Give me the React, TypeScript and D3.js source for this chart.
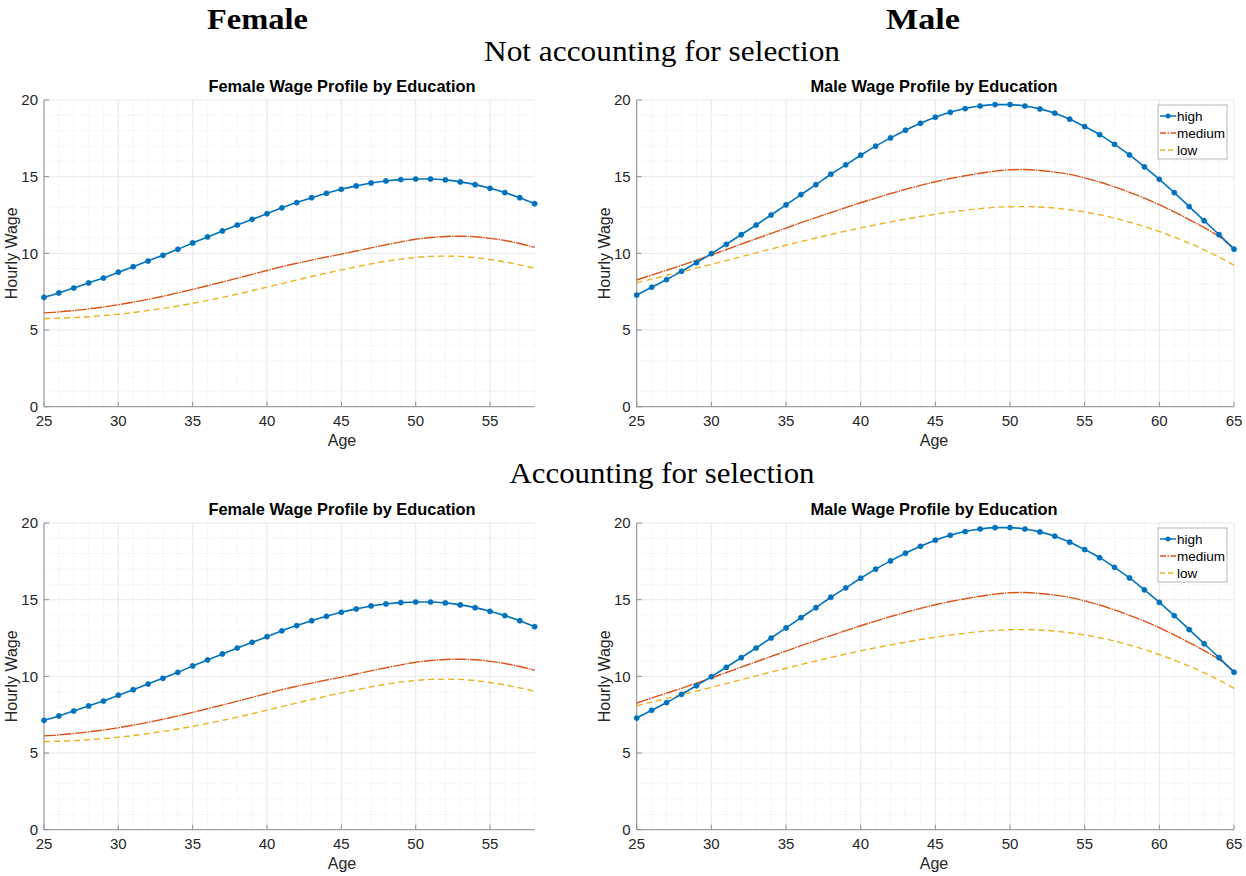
import React from "react";
import * as d3 from "d3";

const femaleAges = d3.range(25, 59);
const maleAges = d3.range(25, 66);

const femaleHigh = [7.13, 7.42, 7.74, 8.07, 8.39, 8.77, 9.13, 9.5, 9.87, 10.26, 10.68, 11.07, 11.46, 11.85, 12.22, 12.59, 12.97, 13.31, 13.63, 13.92, 14.18, 14.4, 14.59, 14.72, 14.81, 14.85, 14.85, 14.79, 14.66, 14.48, 14.24, 13.96, 13.63, 13.24];
const femaleMedium = [6.12, 6.18, 6.27, 6.38, 6.5, 6.65, 6.82, 7.0, 7.2, 7.42, 7.65, 7.89, 8.13, 8.38, 8.63, 8.88, 9.13, 9.35, 9.56, 9.76, 9.95, 10.15, 10.36, 10.56, 10.75, 10.92, 11.03, 11.1, 11.12, 11.08, 10.98, 10.84, 10.64, 10.4];
const femaleLow = [5.74, 5.77, 5.81, 5.87, 5.94, 6.03, 6.14, 6.27, 6.41, 6.57, 6.74, 6.93, 7.13, 7.34, 7.56, 7.8, 8.03, 8.26, 8.49, 8.71, 8.92, 9.12, 9.31, 9.48, 9.62, 9.73, 9.8, 9.82, 9.8, 9.72, 9.6, 9.44, 9.25, 9.03];

const maleHigh = [7.28, 7.79, 8.29, 8.83, 9.39, 9.98, 10.59, 11.22, 11.85, 12.5, 13.16, 13.83, 14.48, 15.16, 15.77, 16.4, 16.99, 17.53, 18.03, 18.48, 18.88, 19.2, 19.44, 19.61, 19.7, 19.7, 19.61, 19.42, 19.14, 18.75, 18.27, 17.74, 17.11, 16.42, 15.64, 14.83, 13.96, 13.05, 12.13, 11.22, 10.27];
const maleMedium = [8.26, 8.58, 8.9, 9.22, 9.55, 9.9, 10.25, 10.6, 10.95, 11.3, 11.65, 12.0, 12.33, 12.66, 12.98, 13.3, 13.6, 13.9, 14.17, 14.43, 14.67, 14.88, 15.06, 15.22, 15.36, 15.45, 15.47, 15.4, 15.3, 15.15, 14.92, 14.65, 14.33, 13.98, 13.6, 13.17, 12.7, 12.2, 11.68, 11.1, 10.3];
const maleLow = [8.08, 8.32, 8.56, 8.8, 9.04, 9.28, 9.53, 9.78, 10.03, 10.28, 10.53, 10.77, 11.0, 11.23, 11.45, 11.66, 11.86, 12.05, 12.23, 12.4, 12.55, 12.69, 12.81, 12.92, 13.0, 13.04, 13.05, 13.02, 12.95, 12.84, 12.7, 12.52, 12.3, 12.04, 11.75, 11.42, 11.06, 10.67, 10.23, 9.75, 9.22];

const yTicks = [0, 5, 10, 15, 20];
const femaleXTicks = [25, 30, 35, 40, 45, 50, 55];
const maleXTicks = [25, 30, 35, 40, 45, 50, 55, 60, 65];
const seriesNames = ["high", "medium", "low"];

const BLUE = "#0072BD";
const ORANGE = "#D95319";
const YELLOW = "#EDB120";
const SANS = "'Liberation Sans', Arial, Helvetica, sans-serif";
const SERIF = "'Liberation Serif', 'DejaVu Serif', serif";

type PanelProps = {
  title: string;
  ages: number[];
  xMax: number;
  xTicks: number[];
  high: number[];
  medium: number[];
  low: number[];
  x0: number;
  x1: number;
  y0: number;
  y1: number;
  legend: boolean;
  titleX: number;
  labelX: number;
};

function Panel(p: PanelProps) {
  const x = d3.scaleLinear().domain([25, p.xMax]).range([p.x0, p.x1]);
  const y = d3.scaleLinear().domain([0, 20]).range([p.y1, p.y0]);
  const line = d3
    .line<number>()
    .x((_, i) => x(p.ages[i]))
    .y((v) => y(v))
    .curve(d3.curveMonotoneX);
  const minorX = d3.range(25, p.xMax + 0.001, 1);
  const minorY = d3.range(0, 20.001, 1);
  const axisColor = "#8f8f8f";
  return (
    <g>
      {minorX.map((v) => (
        <line key={"mx" + v} x1={x(v)} x2={x(v)} y1={p.y0} y2={p.y1} stroke="#e6e6e6" strokeWidth={0.6} strokeDasharray="1.5,1.5" />
      ))}
      {minorY.map((v) => (
        <line key={"my" + v} x1={p.x0} x2={p.x1} y1={y(v)} y2={y(v)} stroke="#e6e6e6" strokeWidth={0.6} strokeDasharray="1.5,1.5" />
      ))}
      {p.xTicks.map((v) => (
        <line key={"gx" + v} x1={x(v)} x2={x(v)} y1={p.y0} y2={p.y1} stroke="#e4e4e4" strokeWidth={0.7} />
      ))}
      {yTicks.map((v) => (
        <line key={"gy" + v} x1={p.x0} x2={p.x1} y1={y(v)} y2={y(v)} stroke="#e4e4e4" strokeWidth={0.7} />
      ))}
      <line x1={p.x0} x2={p.x0} y1={p.y0} y2={p.y1} stroke={axisColor} strokeWidth={1} />
      <line x1={p.x0} x2={p.x1} y1={p.y1} y2={p.y1} stroke={axisColor} strokeWidth={1} />
      {yTicks.map((v) => (
        <g key={"ty" + v}>
          <line x1={p.x0} x2={p.x0 + 5} y1={y(v)} y2={y(v)} stroke={axisColor} strokeWidth={1} />
          <text x={p.x0 - 6} y={y(v)} dy="0.35em" textAnchor="end" fontFamily={SANS} fontSize={15} fill="#262626">
            {v}
          </text>
        </g>
      ))}
      {p.xTicks.map((v) => (
        <g key={"tx" + v}>
          <line x1={x(v)} x2={x(v)} y1={p.y1} y2={p.y1 - 5} stroke={axisColor} strokeWidth={1} />
          <text x={x(v)} y={p.y1 + 19} textAnchor="middle" fontFamily={SANS} fontSize={15} fill="#262626">
            {v}
          </text>
        </g>
      ))}
      <text x={p.labelX} y={p.y1 + 39} textAnchor="middle" fontFamily={SANS} fontSize={16} fill="#262626">
        Age
      </text>
      <text
        transform={`translate(${p.x0 - 27},${(p.y0 + p.y1) / 2}) rotate(-90)`}
        textAnchor="middle"
        fontFamily={SANS}
        fontSize={16}
        fill="#262626"
      >
        Hourly Wage
      </text>
      <text x={p.titleX} y={p.y0 - 8} textAnchor="middle" fontFamily={SANS} fontSize={16.4} fontWeight="bold" fill="#000">
        {p.title}
      </text>
      <path d={line(p.low) || ""} fill="none" stroke={YELLOW} strokeWidth={1.4} strokeDasharray="6,4" />
      <path d={line(p.medium) || ""} fill="none" stroke={ORANGE} strokeWidth={1.4} strokeDasharray="12,1,1.5,1" />
      <path d={line(p.high) || ""} fill="none" stroke={BLUE} strokeWidth={1.6} />
      {p.high.map((v, i) => (
        <circle key={"m" + i} cx={x(p.ages[i])} cy={y(v)} r={2.6} fill={BLUE} stroke={BLUE} strokeWidth={0.5} />
      ))}
      {p.legend && (
        <g>
          <rect x={1158} y={p.y0 + 5} width={69} height={54} fill="#fff" stroke="#a8a8a8" strokeWidth={0.8} />
          {seriesNames.map((n, i) => {
            const ly = p.y0 + 16 + i * 17;
            const col = i === 0 ? BLUE : i === 1 ? ORANGE : YELLOW;
            const dash = i === 0 ? undefined : i === 1 ? "6,1.5,1.5,1.5" : "5,3";
            return (
              <g key={n}>
                <line x1={1160} x2={1176} y1={ly} y2={ly} stroke={col} strokeWidth={1.5} strokeDasharray={dash} />
                {i === 0 && <circle cx={1168} cy={ly} r={2.5} fill={BLUE} />}
                <text x={1177} y={ly} dy="0.35em" fontFamily={SANS} fontSize={13.5} fill="#000">
                  {n}
                </text>
              </g>
            );
          })}
        </g>
      )}
    </g>
  );
}

export default function App() {
  const rows = [
    { y0: 100, y1: 406.7 },
    { y0: 523, y1: 829.7 },
  ];
  return (
    <svg width={1246} height={876} style={{ position: "absolute", left: 0, top: 0, background: "#fff" }}>
      <rect width={1246} height={876} fill="#fff" />
      <text x={257.5} y={29} textAnchor="middle" fontFamily={SERIF} fontSize={29} fontWeight="bold" fill="#000" textLength={101} lengthAdjust="spacingAndGlyphs">
        Female
      </text>
      <text x={923} y={29} textAnchor="middle" fontFamily={SERIF} fontSize={29} fontWeight="bold" fill="#000" textLength={74} lengthAdjust="spacingAndGlyphs">
        Male
      </text>
      <text x={662} y={61} textAnchor="middle" fontFamily={SERIF} fontSize={29} fill="#000" textLength={356} lengthAdjust="spacingAndGlyphs">
        Not accounting for selection
      </text>
      <text x={662} y={483} textAnchor="middle" fontFamily={SERIF} fontSize={29} fill="#000" textLength={305} lengthAdjust="spacingAndGlyphs">
        Accounting for selection
      </text>
      {rows.map((r, k) => (
        <g key={k}>
          <Panel
            title="Female Wage Profile by Education"
            ages={femaleAges}
            xMax={58}
            xTicks={femaleXTicks}
            high={femaleHigh}
            medium={femaleMedium}
            low={femaleLow}
            x0={44}
            x1={534.6}
            y0={r.y0}
            y1={r.y1}
            legend={false}
            titleX={342}
            labelX={342}
          />
          <Panel
            title="Male Wage Profile by Education"
            ages={maleAges}
            xMax={65}
            xTicks={maleXTicks}
            high={maleHigh}
            medium={maleMedium}
            low={maleLow}
            x0={636.7}
            x1={1234}
            y0={r.y0}
            y1={r.y1}
            legend={true}
            titleX={934}
            labelX={934}
          />
        </g>
      ))}
    </svg>
  );
}
